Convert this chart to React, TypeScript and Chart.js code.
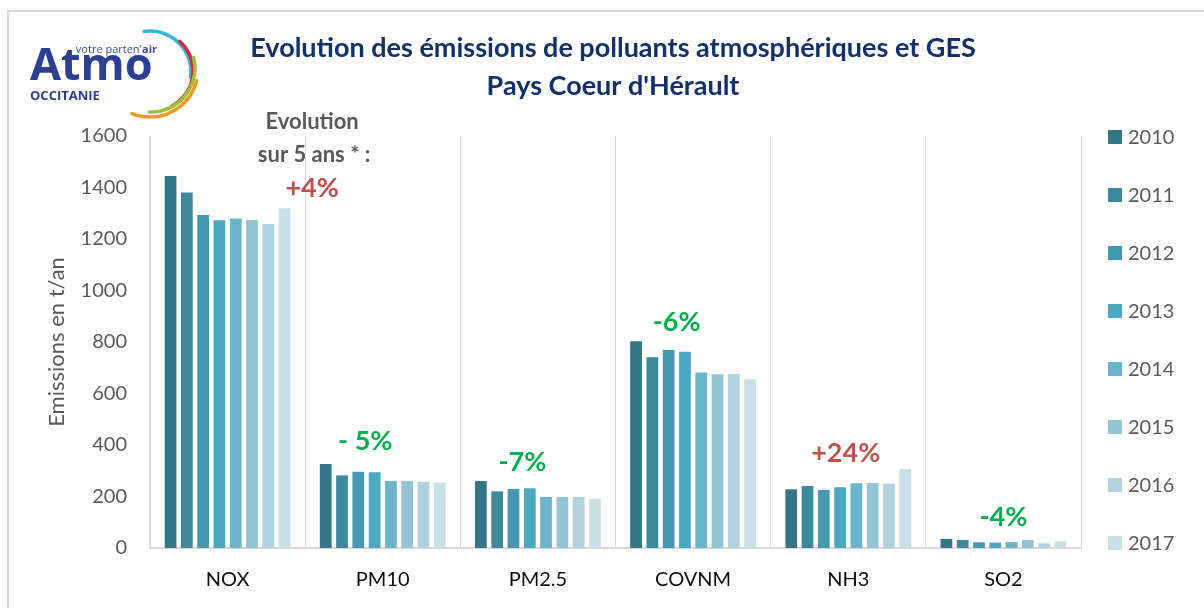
import React, { useEffect, useRef } from "react";
import { Chart, registerables } from "chart.js";

Chart.register(...registerables);

// ---- Data ----
const categories = ["NOX", "PM10", "PM2.5", "COVNM", "NH3", "SO2"];
const years = ["2010", "2011", "2012", "2013", "2014", "2015", "2016", "2017"];
const values2010 = [1445, 326, 260, 803, 228, 35];
const values2011 = [1381, 282, 220, 741, 241, 31];
const values2012 = [1293, 296, 229, 769, 225, 22];
const values2013 = [1273, 294, 232, 762, 236, 21];
const values2014 = [1280, 260, 198, 682, 251, 23];
const values2015 = [1274, 260, 198, 675, 252, 31];
const values2016 = [1258, 257, 198, 676, 250, 18];
const values2017 = [1319, 254, 191, 655, 307, 26];
const yearSeries = [values2010, values2011, values2012, values2013, values2014, values2015, values2016, values2017];
const yTickValues = [0, 200, 400, 600, 800, 1000, 1200, 1400, 1600];

// evolution labels (text + value level where they sit)
const changeLabels = ["+4%", "- 5%", "-7%", "-6%", "+24%", "-4%"];
const changeLevels = [1398, 416, 334, 878, 369, 120];
const noteLines = ["Evolution", "sur 5 ans * :"];
const noteLevels = [1654, 1526];

const titleLines = ["Evolution des émissions de polluants atmosphériques et GES", "Pays Coeur d'Hérault"];
const yAxisTitle = "Emissions en t/an";

// ---- Styles ----
const yearColors = ["#347586", "#3c889c", "#4498af", "#4ba8c1", "#6ab5cb", "#93c4d4", "#afd2de", "#c9e0e7"];
const changeColors = ["#c0504d", "#00b050", "#00b050", "#00b050", "#c0504d", "#00b050"];
const changeOffsets = [0.545, -0.113, -0.1, -0.106, -0.016, 0];
const FONT = "Lato, 'Open Sans', sans-serif";
const LOGO_FONT = "'Open Sans', Lato, sans-serif";

function drawLogo(ctx: CanvasRenderingContext2D) {
  ctx.save();
  const arcs = [
    { c: "#37b5da", r: 41, a0: -98, a1: 8, cx: 150, cy: 72 },
    { c: "#d7263d", r: 40, a0: -48, a1: 62, cx: 153, cy: 71 },
    { c: "#9cc43b", r: 44, a0: -14, a1: 92, cx: 151, cy: 68 },
    { c: "#f39a1e", r: 48, a0: 14, a1: 112, cx: 150, cy: 69 },
  ];
  ctx.lineCap = "round";
  ctx.lineWidth = 3.5;
  for (const a of arcs) {
    ctx.strokeStyle = a.c;
    ctx.beginPath();
    ctx.arc(a.cx, a.cy, a.r, (a.a0 * Math.PI) / 180, (a.a1 * Math.PI) / 180);
    ctx.stroke();
  }
  ctx.fillStyle = "#2b3e90";
  ctx.textAlign = "left";
  ctx.textBaseline = "alphabetic";
  ctx.font = `bold 45px ${LOGO_FONT}`;
  ctx.fillText("Atmo", 30, 80);
  ctx.font = `bold 13px ${LOGO_FONT}`;
  ctx.fillText("OCCITANIE", 30, 100);
  ctx.fillStyle = "#3b4c9c";
  ctx.font = `bold 11px ${LOGO_FONT}`;
  const wAir = ctx.measureText("air").width;
  ctx.fillText("air", 157 - wAir, 53);
  ctx.font = `11px ${LOGO_FONT}`;
  ctx.textAlign = "right";
  ctx.fillText("votre parten'", 157 - wAir, 53);
  ctx.restore();
}

const overlayPlugin = {
  id: "overlay",
  afterDraw(chart: any) {
    const { ctx, chartArea, scales } = chart;
    const xs = scales.x;
    const ys = scales.y;
    const catW = xs.getPixelForValue(1) - xs.getPixelForValue(0);
    ctx.save();

    // outer frame
    ctx.strokeStyle = "#d9d9d9";
    ctx.lineWidth = 2;
    ctx.beginPath();
    ctx.moveTo(8, 608);
    ctx.lineTo(8, 11);
    ctx.lineTo(1204, 11);
    ctx.stroke();

    drawLogo(ctx);

    // title
    ctx.fillStyle = "#13306b";
    ctx.textAlign = "center";
    ctx.textBaseline = "middle";
    ctx.font = `bold 27px ${FONT}`;
    ctx.fillText(titleLines[0], 613, 48);
    ctx.fillText(titleLines[1], 613, 86);

    // note
    ctx.fillStyle = "#595959";
    ctx.font = `bold 22px ${FONT}`;
    noteLines.forEach((t, i) => {
      const px = xs.getPixelForValue(0) + changeOffsets[0] * catW;
      ctx.fillText(t, px + (i === 1 ? 2 : 0), ys.getPixelForValue(noteLevels[i]));
    });

    // evolution labels
    ctx.font = `bold 27px ${FONT}`;
    changeLabels.forEach((t, i) => {
      ctx.fillStyle = changeColors[i];
      const px = xs.getPixelForValue(i) + changeOffsets[i] * catW;
      ctx.fillText(t, px, ys.getPixelForValue(changeLevels[i]));
    });

    // legend
    ctx.textAlign = "left";
    ctx.font = `20px ${FONT}`;
    chart.data.datasets.forEach((ds: any, i: number) => {
      const cy = chartArea.top + 1 + i * 58;
      ctx.fillStyle = ds.backgroundColor;
      ctx.fillRect(1108, cy - 7, 14, 14);
      ctx.fillStyle = "#595959";
      ctx.fillText(ds.label, 1128, cy + 1);
    });
    ctx.restore();
  },
};

export default function App() {
  const ref = useRef<HTMLCanvasElement | null>(null);
  useEffect(() => {
    if (!ref.current) return;
    const chart = new Chart(ref.current, {
      type: "bar",
      data: {
        labels: categories,
        datasets: years.map((y, i) => ({
          label: y,
          data: yearSeries[i],
          backgroundColor: yearColors[i],
          borderWidth: 0,
          categoryPercentage: 0.84,
          barPercentage: 0.72,
        })),
      },
      options: {
        animation: false,
        responsive: true,
        maintainAspectRatio: false,
        layout: { padding: { top: 136, right: 123, bottom: 16, left: 0 } },
        plugins: {
          legend: { display: false },
          title: { display: false },
          tooltip: { enabled: false },
        },
        scales: {
          x: {
            afterFit: (scale: any) => {
              scale.height = 44;
            },
            grid: { display: true, color: "#d9d9d9", lineWidth: 1, drawTicks: false, offset: true },
            border: { display: true, color: "#d9d9d9", width: 2 },
            ticks: { color: "#0d0d0d", font: { family: FONT, size: 20 }, padding: 20 },
          },
          y: {
            min: 0,
            max: 1600,
            afterFit: (scale: any) => {
              scale.width = 150;
            },
            afterBuildTicks: (scale: any) => {
              scale.ticks = yTickValues.map((v) => ({ value: v }));
            },
            grid: { display: false, drawTicks: false },
            border: { display: true, color: "#d9d9d9", width: 1 },
            ticks: {
              color: "#595959",
              font: { family: FONT, size: 20 },
              padding: 23,
              callback: (v: any) => String(v),
            },
            title: {
              display: true,
              text: yAxisTitle,
              color: "#595959",
              font: { family: FONT, size: 22 },
              padding: { top: 44, bottom: 0 },
            },
          },
        },
      },
      plugins: [overlayPlugin],
    });
    return () => chart.destroy();
  }, []);
  return (
    <div style={{ position: "absolute", left: 0, top: 0, width: 1204, height: 608, background: "#ffffff" }}>
      <canvas ref={ref} />
    </div>
  );
}
